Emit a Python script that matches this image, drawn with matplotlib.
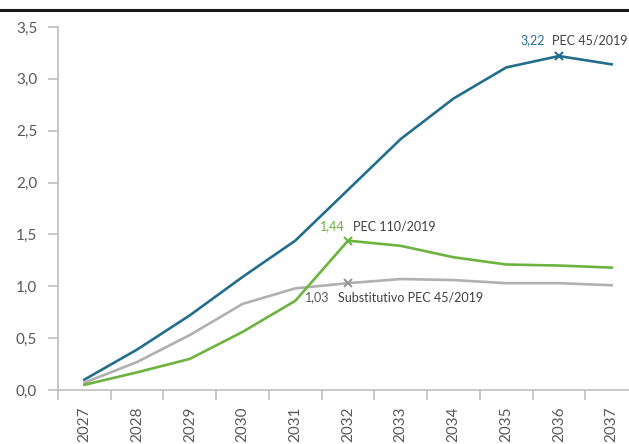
import matplotlib
matplotlib.use("Agg")
import matplotlib.pyplot as plt
from matplotlib.lines import Line2D
from matplotlib.ticker import FuncFormatter, FixedLocator

years = ["2027", "2028", "2029", "2030", "2031", "2032", "2033", "2034", "2035", "2036", "2037"]
pec45 = [0.10, 0.39, 0.72, 1.09, 1.44, 1.93, 2.42, 2.81, 3.11, 3.22, 3.14]
pec110 = [0.05, 0.17, 0.30, 0.56, 0.86, 1.44, 1.39, 1.28, 1.21, 1.20, 1.18]
subst45 = [0.07, 0.27, 0.53, 0.83, 0.98, 1.03, 1.07, 1.06, 1.03, 1.03, 1.01]

BLUE = "#236e8c"
GREEN = "#6cb33f"
GRAY = "#b0b0b0"
TEXT = "#404040"
AXIS = "#bfbfbf"

plt.rcParams["font.family"] = ["Lato", "DejaVu Sans"]

fig = plt.figure(figsize=(6.29, 4.44), dpi=100)
W, H = 629, 444
left, right = 58 / W, 638 / W
bottom, top = (H - 390) / H, (H - 27) / H
ax = fig.add_axes([left, bottom, right - left, top - bottom])

xs = list(range(len(years)))
ax.plot(xs, pec45, color=BLUE, lw=1.9, solid_joinstyle="round")
ax.plot(xs, subst45, color=GRAY, lw=1.9, solid_joinstyle="round")
ax.plot(xs, pec110, color=GREEN, lw=1.9, solid_joinstyle="round")

# peak markers and labels
i45 = years.index("2036")
i110 = years.index("2032")
isub = years.index("2032")
ax.plot(xs[i45], pec45[i45], marker="x", color=BLUE, ms=6, mew=1.5)
ax.plot(xs[i110], pec110[i110], marker="x", color=GREEN, ms=6, mew=1.5)
ax.plot(xs[isub], subst45[isub], marker="x", color="#999999", ms=6, mew=1.5)


def label(i, vals, color, name, dx_num, dx_name, dy, va):
    v = vals[i]
    ax.annotate(f"{v:.2f}".replace(".", ","), (xs[i], v), xytext=(dx_num, dy),
                textcoords="offset pixels", ha="right", va=va, color=color, fontsize=9)
    ax.annotate(name, (xs[i], v), xytext=(dx_name, dy),
                textcoords="offset pixels", ha="left", va=va, color=TEXT, fontsize=9)


label(i45, pec45, BLUE, "PEC 45/2019", -14, -7, 16, "center")
label(i110, pec110, GREEN, "PEC 110/2019", -3, 5, 14, "center")
label(isub, subst45, "#595959", "Substitutivo PEC 45/2019", -19, -10, -14, "center")

ax.set_xlim(-0.5, 10.5)
ax.set_ylim(0, 3.5)
ax.set_yticks([0, 0.5, 1.0, 1.5, 2.0, 2.5, 3.0, 3.5])
ax.yaxis.set_major_formatter(FuncFormatter(lambda v, p: f"{v:.1f}".replace(".", ",")))
ax.set_xticks(xs)
ax.set_xticklabels(years, rotation=90)
ax.xaxis.set_minor_locator(FixedLocator([i - 0.5 for i in range(len(years) + 1)]))

for s in ["top", "right"]:
    ax.spines[s].set_visible(False)
for s in ["left", "bottom"]:
    ax.spines[s].set_color(AXIS)
    ax.spines[s].set_linewidth(1.2)

ax.tick_params(axis="y", direction="out", length=7, width=1.2, color=AXIS,
               labelsize=11, labelcolor="#595959", pad=8)
ax.tick_params(axis="x", which="major", length=0, labelsize=11, labelcolor="#595959", pad=12)
ax.tick_params(axis="x", which="minor", direction="out", length=7, width=1.2, color=AXIS)

# dark rule at the top of the picture
fig.add_artist(Line2D([0, 1], [1 - 10 / H, 1 - 10 / H], color="#1a1a1a", lw=2.2))

fig.savefig("out.png", dpi=100)
